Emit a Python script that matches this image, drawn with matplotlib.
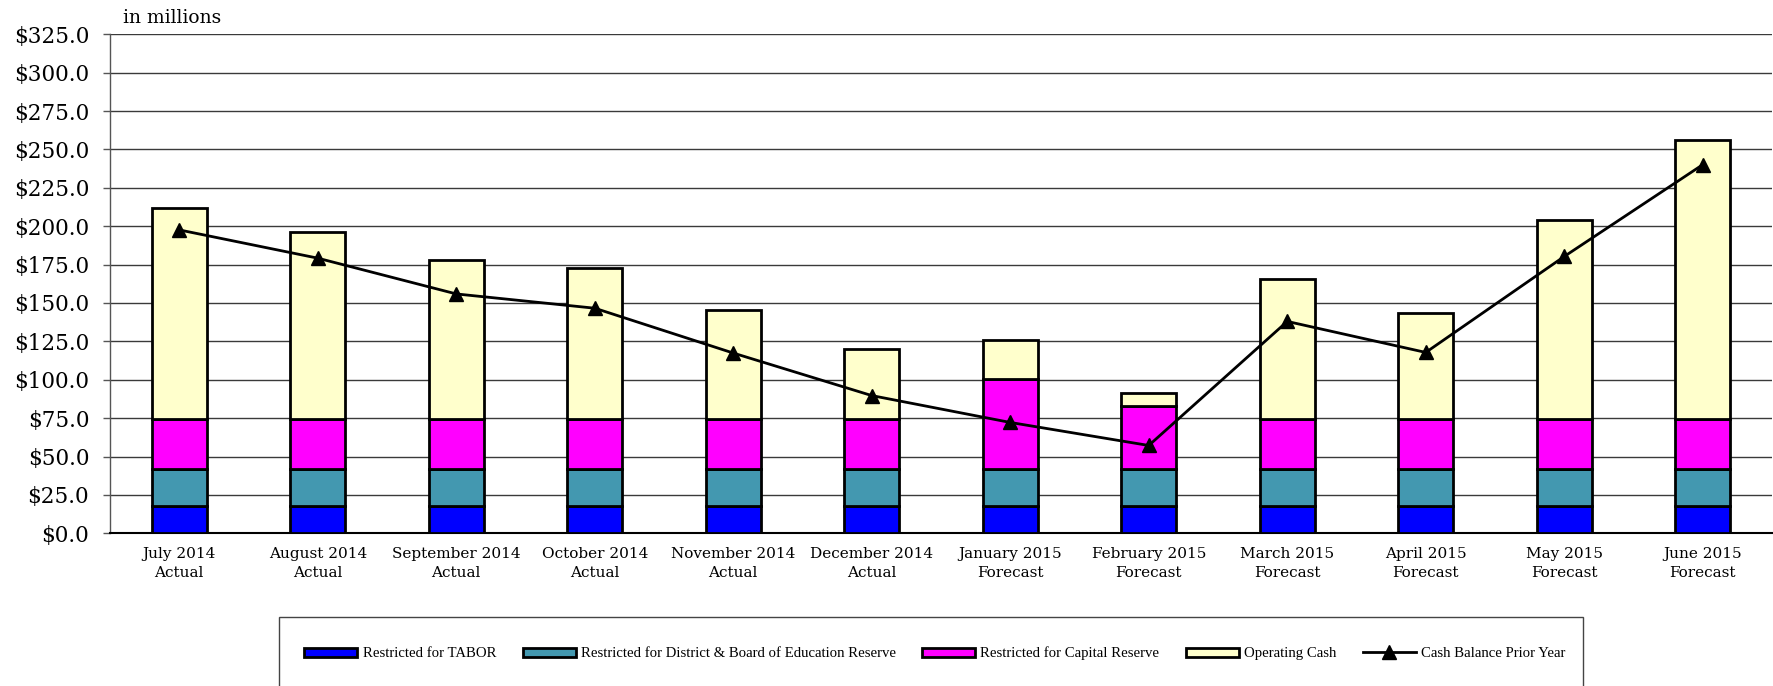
import matplotlib
matplotlib.use("Agg")
import matplotlib.pyplot as plt
import numpy as np
from matplotlib.patches import Rectangle
from matplotlib.ticker import FuncFormatter

# ---------------------------------------------------------------------------
# Data (in millions)
# ---------------------------------------------------------------------------
months = ["July 2014\nActual", "August 2014\nActual", "September 2014\nActual",
          "October 2014\nActual", "November 2014\nActual", "December 2014\nActual",
          "January 2015\nForecast", "February 2015\nForecast", "March 2015\nForecast",
          "April 2015\nForecast", "May 2015\nForecast", "June 2015\nForecast"]

tabor     = [18.0, 18.0, 18.0, 18.0, 18.0, 18.0, 18.0, 18.0, 18.0, 18.0, 18.0, 18.0]
district  = [24.0, 24.0, 24.0, 24.0, 24.0, 24.0, 24.0, 24.0, 24.0, 24.0, 24.0, 24.0]
capital   = [32.5, 32.5, 32.5, 32.5, 32.5, 32.5, 58.3, 41.0, 32.5, 32.5, 32.5, 32.5]
operating = [137.5, 121.8, 103.3, 98.3, 71.1, 45.6, 25.9, 8.6, 91.1, 68.9, 129.7, 181.9]
prior_year = [197.6, 179.2, 155.9, 146.6, 117.4, 89.7, 72.2, 57.2, 138.0, 117.8, 180.3, 240.1]

series = [
    ("Restricted for TABOR", tabor, "#0000FF"),
    ("Restricted for District & Board of Education Reserve", district, "#4398B0"),
    ("Restricted for Capital Reserve", capital, "#FF00FF"),
    ("Operating Cash", operating, "#FFFFCC"),
]

SERIF = ["DejaVu Serif"]
W, H = 1773, 686

fig = plt.figure(figsize=(W / 100, H / 100), dpi=100)
ax = fig.add_axes([110 / W, 1 - 533.3 / H, (1772 - 110) / W, (533.3 - 34.3) / H])

x = np.arange(len(months))
bottom = np.zeros(len(months))
handles = []
for label, vals, color in series:
    b = ax.bar(x, vals, 0.40, bottom=bottom, color=color, edgecolor="black",
               linewidth=2.0, label=label, zorder=3)
    handles.append(b)
    bottom += np.array(vals)

ln, = ax.plot(x, prior_year, color="black", linewidth=2.0, marker="^",
              markersize=10, label="Cash Balance Prior Year", zorder=4)
handles.append(ln)

ax.set_xlim(-0.5, len(months) - 0.5)
ax.set_ylim(0, 325)
ax.set_yticks(np.arange(0, 326, 25))
ax.yaxis.set_major_formatter(FuncFormatter(lambda v, _: f"${v:.1f}"))
ax.grid(True, axis="y", color="#3a3a3a", linewidth=1.0, zorder=0)
ax.set_axisbelow(True)

for s in ("top", "right"):
    ax.spines[s].set_visible(False)
ax.spines["left"].set_color("#555555")
ax.spines["left"].set_linewidth(1.0)
ax.spines["bottom"].set_color("black")
ax.spines["bottom"].set_linewidth(1.5)

ax.set_xticks(x)
ax.set_xticklabels(months, family=SERIF, fontsize=11, linespacing=1.4)
ax.tick_params(axis="x", length=0, pad=10)
ax.tick_params(axis="y", length=5, width=1, color="#555555", pad=10)
for t in ax.get_yticklabels():
    t.set_family(SERIF)
    t.set_fontsize(15.5)

fig.text(123 / W, 1 - 18 / H, "in millions", family=SERIF, fontsize=13.5,
         va="center", ha="left")

# legend box (runs off the bottom of the figure, as in the original)
frame = Rectangle((279 / W, -0.05), (1583 - 279) / W, 1 - 617 / H + 0.05,
                  transform=fig.transFigure, facecolor="white",
                  edgecolor="#444444", linewidth=1.0)
fig.patches.append(frame)

leg = fig.legend(handles=handles, loc="center", ncol=5, frameon=False,
                 bbox_to_anchor=(935 / W, 1 - 653.5 / H),
                 prop={"family": "Liberation Serif", "size": 10.6},
                 handlelength=3.6, handleheight=0.6, handletextpad=0.35,
                 columnspacing=1.8)

fig.savefig("out.png", dpi=100)
